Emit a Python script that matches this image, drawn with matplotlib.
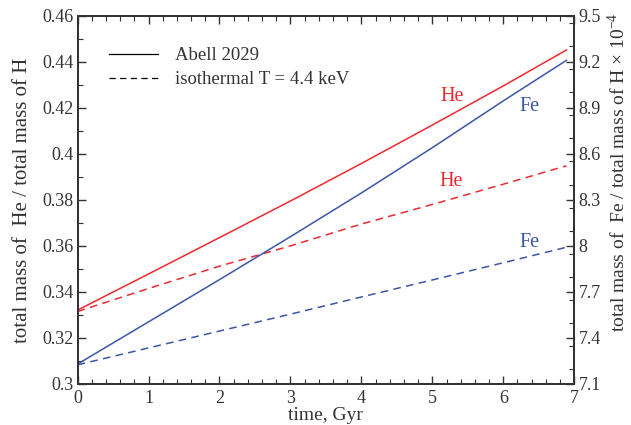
import numpy as np
import matplotlib
matplotlib.use('Agg')
import matplotlib.pyplot as plt
from matplotlib.ticker import MultipleLocator

plt.rcParams['font.family'] = ['Liberation Serif', 'DejaVu Serif']
plt.rcParams['mathtext.fontset'] = 'custom'
plt.rcParams['mathtext.rm'] = 'Liberation Serif'

# tiempo en Gyr
t = [0, 1, 2, 3, 4, 5, 6, 6.89]

# He / H (eje izquierdo)
he_abell = [0.3321, 0.3478, 0.3636, 0.3795, 0.3958, 0.4125, 0.4295, 0.4451]
he_iso = [0.3315, 0.3415, 0.3512, 0.3600, 0.3695, 0.3780, 0.3868, 0.3948]

# Fe / H x 1e-4 (eje derecho)
fe_abell = [7.23, 7.505, 7.78, 8.06, 8.345, 8.64, 8.945, 9.209]
fe_iso = [7.225, 7.335, 7.445, 7.555, 7.667, 7.778, 7.89, 7.991]

RED = '#ee2a2f'
BLUE = '#3b56a6'
INK = '#333333'

fig = plt.figure(figsize=(6.31, 4.25), dpi=100)
ax = fig.add_axes([0.123, 0.0965, 0.787, 0.8665])
ax2 = ax.twinx()

ax.plot(t, he_abell, '-', color=RED, lw=1.1)
ax.plot(t, he_iso, '--', color=RED, lw=1.1, dashes=(5, 3.5))
ax2.plot(t, fe_abell, '-', color=BLUE, lw=1.1)
ax2.plot(t, fe_iso, '--', color=BLUE, lw=1.1, dashes=(5, 3.5))

# leyenda
ax.plot([], [], '-', color='black', lw=0.9, label='Abell 2029')
ax.plot([], [], '--', color='black', lw=0.9, dashes=(5, 3.5), label='isothermal T = 4.4 keV')
leg = ax.legend(loc='upper left', frameon=False, fontsize=13.5, handlelength=2.6,
                handletextpad=0.9, labelspacing=0.35, bbox_to_anchor=(0.03, 0.96))
for txt in leg.get_texts():
    txt.set_color(INK)

ax.text(5.28, 0.4247, 'He', color=RED, fontsize=14.5, ha='center', va='center')
ax.text(5.27, 0.3879, 'He', color=RED, fontsize=14.5, ha='center', va='center')
ax.text(6.37, 0.4207, 'Fe', color=BLUE, fontsize=14.5, ha='center', va='center')
ax.text(6.37, 0.3613, 'Fe', color=BLUE, fontsize=14.5, ha='center', va='center')

ax.set_xlim(0, 7)
ax.set_ylim(0.3, 0.46)
ax2.set_ylim(7.1, 9.5)

ax.xaxis.set_minor_locator(MultipleLocator(0.2))
ax.yaxis.set_minor_locator(MultipleLocator(0.01))
ax2.yaxis.set_minor_locator(MultipleLocator(0.15))

ax.set_xticks(range(8))
ax.set_xticklabels([str(v) for v in range(8)])
ax.set_yticks(np.arange(0.3, 0.4601, 0.02))
ax.set_yticklabels(['0.3', '0.32', '0.34', '0.36', '0.38', '0.4', '0.42', '0.44', '0.46'])
ax2.set_yticks(np.arange(7.1, 9.501, 0.3))
ax2.set_yticklabels(['7.1', '7.4', '7.7', '8', '8.3', '8.6', '8.9', '9.2', '9.5'])

ax.tick_params(axis='both', which='major', direction='in', length=6, width=1.0,
               labelsize=13, colors=INK, top=True, pad=3)
ax.tick_params(axis='x', which='major', pad=4)
ax.tick_params(axis='both', which='minor', direction='in', length=3.5, width=0.8,
               colors=INK, top=True)
ax.tick_params(axis='y', right=False, which='both')
ax2.tick_params(axis='y', which='major', direction='in', length=6, width=1.0,
                labelsize=13, colors=INK, pad=3)
ax2.tick_params(axis='y', which='minor', direction='in', length=3.5, width=0.8, colors=INK)

for a in (ax, ax2):
    for s in a.spines.values():
        s.set_linewidth(1.4)
        s.set_color(INK)

ax.set_xlabel('time, Gyr', fontsize=14, color=INK, va='center')
ax.xaxis.set_label_coords(0.5, -0.085)
ax.set_ylabel('total mass of  He / total mass of H', fontsize=15, color=INK, va='center')
ax.yaxis.set_label_coords(-0.11, 0.5)
ax2.set_ylabel(r'total mass of  Fe / total mass of H $\times$ 10$^{-4}$', fontsize=14,
               color=INK, va='center')
ax2.yaxis.set_label_coords(1.087, 0.575)

fig.savefig('out.png', dpi=100)
